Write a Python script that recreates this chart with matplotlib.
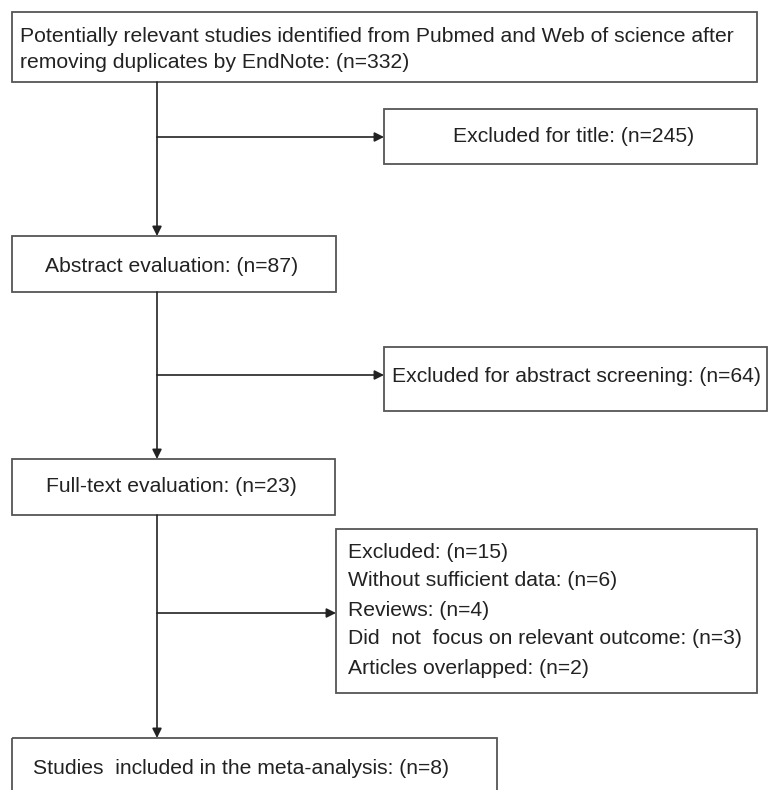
import matplotlib
matplotlib.use("Agg")
import matplotlib.pyplot as plt
from matplotlib.patches import Rectangle

# flow counts and labels
n_identified = 332
n_title_excl = 245
n_abstract = 87
n_abstract_excl = 64
n_fulltext = 23
n_fulltext_excl = 15
excl_reasons = ['Without sufficient data', 'Reviews',
                'Did  not  focus on relevant outcome', 'Articles overlapped']
excl_counts = [6, 4, 3, 2]
n_included = 8

W, H = 770, 790
FONT = ['Liberation Sans', 'DejaVu Sans']
FS = 15.2
EDGE = '#555555'
TXT = '#222222'

fig = plt.figure(figsize=(W / 100, H / 100), dpi=100)
ax = fig.add_axes([0, 0, 1, 1])
ax.set_xlim(0, W)
ax.set_ylim(H, 0)
ax.axis('off')


def box(x0, y0, x1, y1):
    ax.add_patch(Rectangle((x0, y0), x1 - x0, y1 - y0, fill=False,
                           ec=EDGE, lw=1.3, clip_on=True))


def text(x, y, s, ha='left'):
    ax.text(x, y, s, ha=ha, va='center', fontsize=FS, family=FONT, color=TXT)


def arrow(x0, y0, x1, y1):
    ax.annotate('', xy=(x1, y1), xytext=(x0, y0),
                arrowprops=dict(arrowstyle='-|>', color='#222222', lw=1.2,
                                mutation_scale=14, shrinkA=0, shrinkB=0))


trunk_x = 157

# top box
box(12, 12, 757, 82)
text(20, 37, 'Potentially relevant studies identified from Pubmed and Web of science after')
text(20, 62, f'removing duplicates by EndNote: (n={n_identified})')

# excluded title
box(384, 109, 757, 164)
text(574, 137, f'Excluded for title: (n={n_title_excl})', ha='center')
arrow(trunk_x, 137, 384, 137)
arrow(trunk_x, 82, trunk_x, 236)

# abstract
box(12, 236, 336, 292)
text(172, 266, f'Abstract evaluation: (n={n_abstract})', ha='center')

box(384, 347, 767, 411)
text(392, 376, f'Excluded for abstract screening: (n={n_abstract_excl})')
arrow(trunk_x, 375, 384, 375)
arrow(trunk_x, 292, trunk_x, 459)

# full text
box(12, 459, 335, 515)
text(171, 487, f'Full-text evaluation: (n={n_fulltext})', ha='center')

box(336, 529, 757, 693)
lines = [f'Excluded: (n={n_fulltext_excl})'] + \
        [f'{r}: (n={c})' for r, c in zip(excl_reasons, excl_counts)]
for i, s in enumerate(lines):
    text(348, 552 + i * 29, s)
arrow(trunk_x, 613, 336, 613)
arrow(trunk_x, 515, trunk_x, 738)

# included
box(12, 738, 497, 820)
text(33, 768, f'Studies  included in the meta-analysis: (n={n_included})')

fig.savefig('out.png', dpi=100, facecolor='white')
